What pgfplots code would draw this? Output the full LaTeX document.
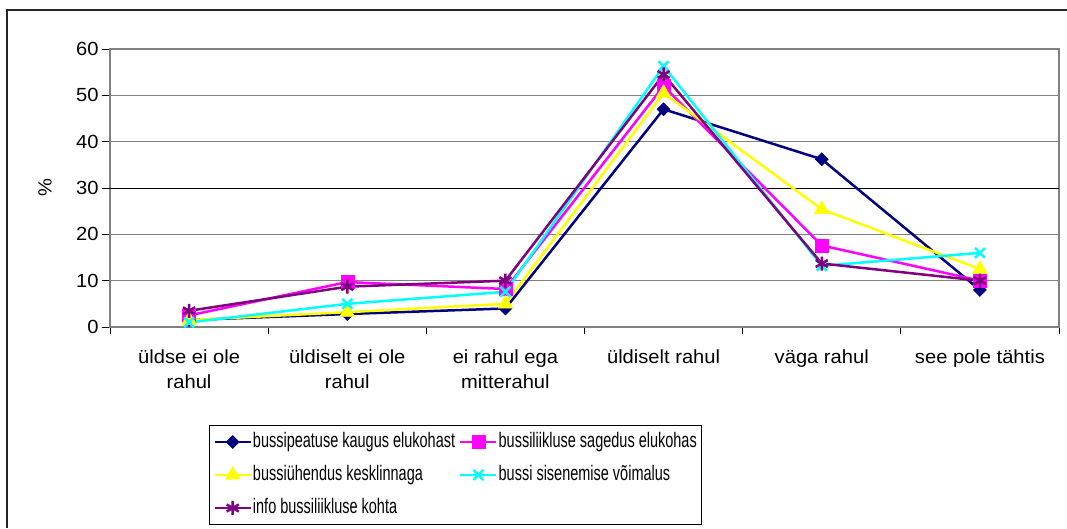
\documentclass[border=0pt]{standalone}
\usepackage{fontspec}
\setmainfont{Liberation Sans}
\newfontfamily\widefont[FakeStretch=1.06]{Liberation Sans}
\newfontfamily\narrowfont[FakeStretch=0.69]{Liberation Sans}
\usepackage{pgfplots}
\pgfplotsset{compat=1.18}
\definecolor{cnavy}{HTML}{000080}
\definecolor{cmag}{HTML}{FF00FF}
\definecolor{cyel}{HTML}{FFFF00}
\definecolor{ccyan}{HTML}{00FFFF}
\definecolor{cpurp}{HTML}{800080}
\definecolor{cgrid}{HTML}{808080}
\begin{document}
\begin{tikzpicture}[x=1pt,y=1pt]
\useasboundingbox (0,0) rectangle (1067,528);
\draw[line width=1.5pt, black!85] (7,0) -- (7,518) -- (1067,518);
\begin{axis}[
  at={(110pt,201pt)}, anchor=south west, scale only axis,
  width=949pt, height=278pt,
  xmin=-0.5, xmax=5.5, ymin=0, ymax=60, clip=false,
  xtick={0,...,5},
  xticklabels={{üldse ei ole\\rahul},{üldiselt ei ole\\rahul},{ei rahul ega\\mitterahul},{üldiselt rahul},{väga rahul},{see pole tähtis}},
  minor xtick={-0.5,0.5,...,5.5},
  major x tick style={draw=none},
  minor tick length=7pt,
  major tick length=8pt,
  tick align=outside, tick pos=left,
  tick style={black, line width=0.8pt},
  ytick={0,10,20,40,50,60},
  extra y ticks={30},
  extra y tick style={major grid style={black, line width=0.7pt}},
  ymajorgrids,
  major grid style={cgrid, line width=1.3pt},
  axis line style={cgrid, line width=1.5pt},
  /pgf/number format/assume math mode=true,
  tick label style={font=\widefont\fontsize{19}{25}\selectfont},
  x tick label style={align=center, yshift=-11pt},
  ylabel={\%},
  ylabel style={at={(axis description cs:-0.0685,0.5)}, anchor=center, font=\widefont\fontsize{19}{22}\selectfont},
  legend columns=2,
  legend cell align=left,
  legend image code/.code={\draw[mark repeat=2,mark phase=2] plot coordinates {(0pt,0pt)(18pt,0pt)(36pt,0pt)};},
  legend style={at={(0.1043,-0.3525)}, anchor=north west, draw=black, line width=1pt,
    inner xsep=4pt, inner ysep=6pt, row sep=12pt,
    font=\narrowfont\fontsize{21}{22}\selectfont,
    /tikz/every even column/.append style={column sep=3pt},
    nodes={inner sep=1pt, text height=15pt, text depth=4pt}},
]
\addplot[cnavy, line width=2.5pt, mark=square*, mark size=4.6pt, mark options={fill=cnavy, rotate=45, line width=0.5pt}]
  coordinates {(0,1.5)(1,2.8)(2,4)(3,47)(4,36.2)(5,8)};
\addlegendentry{bussipeatuse kaugus elukohast}
\addplot[cmag, line width=2.5pt, mark=square*, mark size=6.5pt, mark options={fill=cmag, line width=0.5pt}]
  coordinates {(0,2.5)(1,9.7)(2,8.2)(3,52)(4,17.6)(5,10)};
\addlegendentry{bussiliikluse sagedus elukohas}
\addplot[cyel, line width=2.5pt, mark=triangle*, mark size=8.5pt, mark options={fill=cyel, line width=0.5pt}]
  coordinates {(0,1.5)(1,3.2)(2,5)(3,50.5)(4,25.4)(5,12.5)};
\addlegendentry{bussiühendus kesklinnaga}
\addplot[ccyan, line width=2.5pt, mark=x, mark size=7pt]
  coordinates {(0,1)(1,5)(2,7.6)(3,56.3)(4,13.2)(5,16)};
\addlegendentry{bussi sisenemise võimalus}
\addplot[cpurp, line width=2.5pt, mark=asterisk, mark size=7pt]
  coordinates {(0,3.5)(1,8.7)(2,10)(3,54.5)(4,13.7)(5,10)};
\addlegendentry{info bussiliikluse kohta}
\end{axis}
\end{tikzpicture}
\end{document}
